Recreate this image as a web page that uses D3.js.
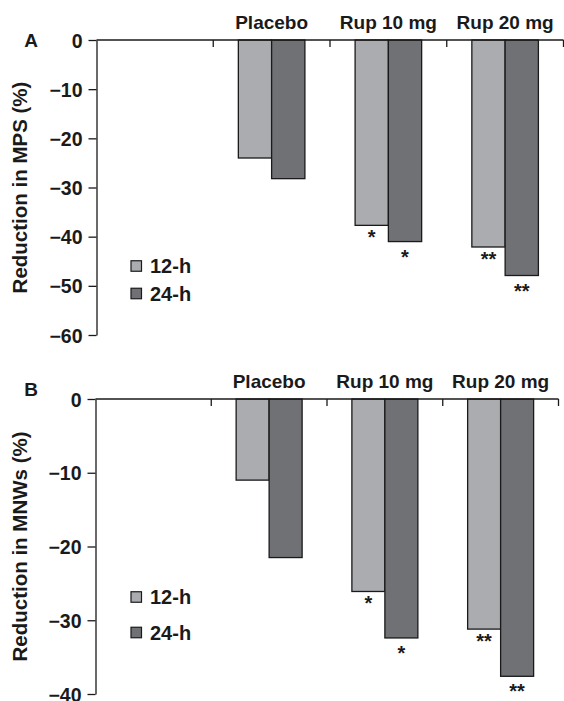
<!doctype html>
<html>
<head>
<meta charset="utf-8">
<script src="https://d3js.org/d3.v7.min.js"></script>
<style>
body {margin: 0; background: white; overflow: hidden;}
svg {display: block;}
svg text {font-family: "Liberation Sans", Arial, Helvetica, sans-serif; font-weight: bold; fill: #1a1a1a;}
</style>
</head>
<body>
<svg id="chart" width="564" height="701"></svg>
<script>
// data
var groups = ["", "Placebo", "Rup 10 mg", "Rup 20 mg"];
var series = ["12-h", "24-h"];

var mps12 = [null, -24.0, -37.7, -42.1];
var mps24 = [null, -28.2, -41.0, -47.9];
var mpsStars12 = ["", "", "*", "**"];
var mpsStars24 = ["", "", "*", "**"];
var mpsTicks = [0, -10, -20, -30, -40, -50, -60];

var mnw12 = [null, -11.0, -26.1, -31.2];
var mnw24 = [null, -21.5, -32.4, -37.6];
var mnwStars12 = ["", "", "*", "**"];
var mnwStars24 = ["", "", "*", "**"];
var mnwTicks = [0, -10, -20, -30, -40];

var colors = {"12-h": "#abacaf", "24-h": "#707175"};
var ink = "#1a1a1a";

var svg = d3.select("#chart");

function drawPanel(p) {
  var g = svg.append("g");

  var x = d3.scaleBand().domain(groups).range([p.left, p.right]).padding(0);
  var y = d3.scaleLinear().domain([p.ticks[p.ticks.length - 1], 0]).range([p.bottom, p.top]);
  var groupW = x.bandwidth() * 0.57;
  var x1 = d3.scaleBand().domain(series).range([0, groupW]).padding(0);

  var rows = groups.map(function(d, i) {
    return {group: d, "12-h": p.v12[i], "24-h": p.v24[i], s12: p.s12[i], s24: p.s24[i]};
  }).filter(function(d) { return d["12-h"] != null; });

  // bars
  var bars = [];
  rows.forEach(function(r) {
    series.forEach(function(s) {
      bars.push({group: r.group, key: s, value: r[s], star: s == "12-h" ? r.s12 : r.s24});
    });
  });
  var bx = function(d) { return x(d.group) + (x.bandwidth() - groupW) / 2 + x1(d.key); };

  g.selectAll("rect.bar").data(bars).enter().append("rect")
    .attr("class", "bar")
    .attr("x", bx)
    .attr("y", y(0))
    .attr("width", x1.bandwidth())
    .attr("height", function(d) { return y(d.value) - y(0); })
    .style("fill", function(d) { return colors[d.key]; })
    .style("stroke", ink)
    .style("stroke-width", 1.3);

  // significance stars
  g.selectAll("text.star").data(bars.filter(function(d) { return d.star; })).enter().append("text")
    .attr("class", "star")
    .attr("x", function(d) { return bx(d) + x1.bandwidth() / 2; })
    .attr("y", function(d) { return y(d.value) + (d.key == "12-h" ? 7.5 : 10.5) + 11.5; })
    .attr("text-anchor", "middle")
    .style("font-size", "20px")
    .text(function(d) { return d.star; });

  // top x axis, ticks at band edges pointing down
  g.append("line")
    .attr("x1", p.left).attr("x2", p.right)
    .attr("y1", y(0)).attr("y2", y(0))
    .style("stroke", ink).style("stroke-width", 1.3);
  g.selectAll("line.xtick").data(groups).enter().append("line")
    .attr("class", "xtick")
    .attr("x1", function(d) { return x(d) + x.bandwidth(); })
    .attr("x2", function(d) { return x(d) + x.bandwidth(); })
    .attr("y1", y(0)).attr("y2", y(0) + 7)
    .style("stroke", ink).style("stroke-width", 1.3);

  g.selectAll("text.cat").data(groups.filter(function(d) { return d; })).enter().append("text")
    .attr("class", "cat")
    .attr("x", function(d) { return x(d) + x.bandwidth() / 2; })
    .attr("y", y(0) - 11)
    .attr("text-anchor", "middle")
    .style("font-size", "19px")
    .text(function(d) { return d; });

  // y axis
  var ya = g.append("g")
    .attr("transform", "translate(" + p.left + ",0)")
    .call(d3.axisLeft(y).tickValues(p.ticks).tickSize(8).tickSizeOuter(0).tickPadding(6).tickFormat(d3.format("d")));
  ya.select(".domain").style("stroke", ink).style("stroke-width", 1.3);
  ya.selectAll(".tick line").style("stroke", ink).style("stroke-width", 1.3);
  ya.selectAll(".tick text")
    .attr("dy", "0.36em")
    .style("font-size", "19.5px")
    .style("font-family", "'Liberation Sans', Arial, Helvetica, sans-serif")
    .style("font-weight", "bold")
    .style("fill", ink);

  // axis title
  g.append("text")
    .attr("transform", "translate(27," + (p.top + p.bottom) / 2 + ") rotate(-90)")
    .attr("text-anchor", "middle")
    .style("font-size", "20.5px")
    .text(p.title);

  // panel letter
  g.append("text")
    .attr("x", 31)
    .attr("y", p.letterY)
    .attr("text-anchor", "middle")
    .style("font-size", "19px")
    .text(p.letter);

  // legend
  series.forEach(function(s, i) {
    var cy = p.legY[i];
    g.append("rect")
      .attr("x", 131).attr("y", cy - 5.25)
      .attr("width", 10.5).attr("height", 10.5)
      .style("fill", colors[s]).style("stroke", ink).style("stroke-width", 1.2);
    g.append("text")
      .attr("x", 150).attr("y", cy + 7.3)
      .style("font-size", "20px")
      .text(s);
  });
}

drawPanel({
  left: 96.5, right: 563.5, top: 40, bottom: 335,
  ticks: mpsTicks, v12: mps12, v24: mps24, s12: mpsStars12, s24: mpsStars24,
  title: "Reduction in MPS (%)", letter: "A", letterY: 47, legY: [266, 293.5]
});

drawPanel({
  left: 95.5, right: 558.5, top: 399, bottom: 694,
  ticks: mnwTicks, v12: mnw12, v24: mnw24, s12: mnwStars12, s24: mnwStars24,
  title: "Reduction in MNWs (%)", letter: "B", letterY: 396, legY: [597, 632.5]
});
</script>
</body>
</html>
